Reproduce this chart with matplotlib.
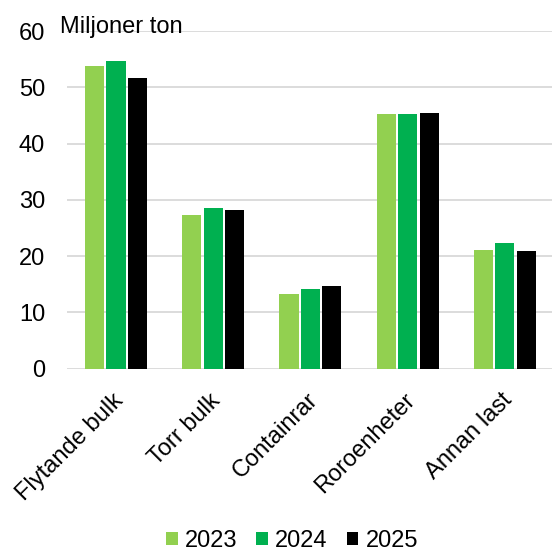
import matplotlib
matplotlib.use('Agg')
import matplotlib.pyplot as plt
import matplotlib.transforms as mtrans
import numpy as np

plt.rcParams['font.family'] = ['Liberation Sans', 'DejaVu Sans']

categories = ['Flytande bulk', 'Torr bulk', 'Containrar', 'Roroenheter', 'Annan last']
years = ['2023', '2024', '2025']
v2023 = [53.7, 27.3, 13.3, 45.2, 21.1]
v2024 = [54.6, 28.5, 14.2, 45.2, 22.3]
v2025 = [51.6, 28.2, 14.6, 45.4, 20.9]
colors = ['#92d050', '#00b050', '#000000']

fig = plt.figure(figsize=(5.52, 5.52), dpi=100, facecolor='w')
ax = fig.add_axes([67.4/552, 0.3324, (552-67.4)/552, 0.6114])

x = np.arange(len(categories))
step = 0.221
width = 0.196
for i, (vals, lab) in enumerate(zip([v2023, v2024, v2025], years)):
    ax.bar(x + (i-1)*step, vals, width, color=colors[i], label=lab, zorder=3)

ax.set_ylim(0, 60)
ax.set_xlim(-0.5, 4.484)
ax.set_yticks(range(0, 61, 10))
ax.yaxis.grid(True, color='#d9d9d9', linewidth=1.3, zorder=0)
for s in ax.spines.values():
    s.set_visible(False)
ax.tick_params(axis='y', length=0, pad=16, labelsize=17)
ax.tick_params(axis='x', length=0, pad=15)
ax.set_xticks(x)
ax.set_xticklabels(categories, rotation=45, ha='right', va='top',
                   rotation_mode='anchor', fontsize=17)
shift = mtrans.ScaledTranslation(-4/100, 0, fig.dpi_scale_trans)
for lbl in ax.get_xticklabels():
    lbl.set_transform(lbl.get_transform() + shift)

fig.text(60/552, 1 - 33/552, 'Miljoner ton', fontsize=17, ha='left', va='baseline')

fig.legend(loc='center', bbox_to_anchor=(0.529, 0.02), ncol=3, frameon=False,
           fontsize=17, handlelength=0.5, handleheight=0.5, handletextpad=0.3,
           columnspacing=0.8)

fig.savefig('out.png', dpi=100)
